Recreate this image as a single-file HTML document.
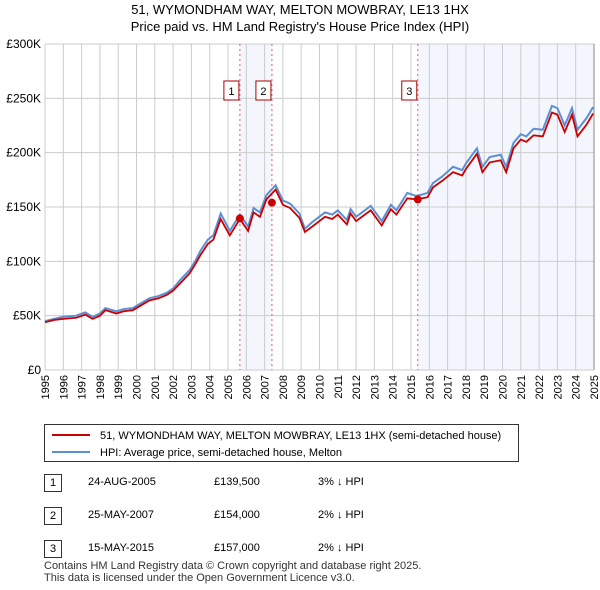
<!DOCTYPE html>
<html><head><meta charset="utf-8"><style>
body{margin:0;background:#fff;font-family:"Liberation Sans","DejaVu Sans",sans-serif;}
#wrap{position:relative;width:600px;height:590px;overflow:hidden;}
.t{position:absolute;font-size:12px;color:#000;white-space:nowrap;}
</style></head><body>
<div id="wrap">
<svg id="chart" width="600" height="420" style="position:absolute;left:0;top:0">
<text x="300" y="14" text-anchor="middle" font-size="13">51, WYMONDHAM WAY, MELTON MOWBRAY, LE13 1HX</text>
<text x="300" y="31" text-anchor="middle" font-size="13">Price paid vs. HM Land Registry's House Price Index (HPI)</text>
<g id="grid"></g><g id="marks"></g>
</svg>
<svg width="600" height="40" style="position:absolute;left:0;top:424px">
<rect x="44.5" y="0.5" width="474" height="37" fill="#fff" stroke="#333"/>
<line x1="52" y1="11" x2="90" y2="11" stroke="#cc0000" stroke-width="2"/>
<text x="100" y="15" font-size="11">51, WYMONDHAM WAY, MELTON MOWBRAY, LE13 1HX (semi-detached house)</text>
<line x1="52" y1="28" x2="90" y2="28" stroke="#5b8fd6" stroke-width="2"/>
<text x="100" y="32" font-size="11">HPI: Average price, semi-detached house, Melton</text>
</svg>
<div>
<div class="t" style="left:44px;top:474px;width:16px;height:16px;border:1px solid #333;text-align:center;line-height:16px;font-size:11px">1</div>
<div class="t" style="left:88px;top:476px;font-size:11px">24-AUG-2005</div>
<div class="t" style="left:214px;top:476px;font-size:11px">£139,500</div>
<div class="t" style="left:318px;top:476px;font-size:11px">3% ↓ HPI</div>
<div class="t" style="left:44px;top:507px;width:16px;height:16px;border:1px solid #333;text-align:center;line-height:16px;font-size:11px">2</div>
<div class="t" style="left:88px;top:509px;font-size:11px">25-MAY-2007</div>
<div class="t" style="left:214px;top:509px;font-size:11px">£154,000</div>
<div class="t" style="left:318px;top:509px;font-size:11px">2% ↓ HPI</div>
<div class="t" style="left:44px;top:540px;width:16px;height:16px;border:1px solid #333;text-align:center;line-height:16px;font-size:11px">3</div>
<div class="t" style="left:88px;top:542px;font-size:11px">15-MAY-2015</div>
<div class="t" style="left:214px;top:542px;font-size:11px">£157,000</div>
<div class="t" style="left:318px;top:542px;font-size:11px">2% ↓ HPI</div>
</div>
<div class="t" style="left:44px;top:560px;font-size:11px;color:#333;line-height:12px">Contains HM Land Registry data © Crown copyright and database right 2025.<br>This data is licensed under the Open Government Licence v3.0.</div>
</div>
<script>
const hpiYears=[1995.0,1995.5,1996.0,1996.7,1997.2,1997.6,1998.0,1998.3,1998.9,1999.3,1999.8,2000.3,2000.7,2001.2,2001.65,2002.0,2002.4,2002.9,2003.2,2003.5,2003.9,2004.2,2004.6,2005.1,2005.65,2006.1,2006.4,2006.75,2007.1,2007.6,2008.0,2008.4,2008.9,2009.2,2009.6,2010.3,2010.7,2011.0,2011.5,2011.7,2012.0,2012.8,2013.4,2013.9,2014.2,2014.8,2015.3,2015.9,2016.2,2016.7,2017.3,2017.8,2018.0,2018.6,2018.9,2019.3,2019.9,2020.2,2020.6,2021.0,2021.3,2021.7,2022.2,2022.7,2023.0,2023.4,2023.8,2024.1,2024.6,2024.95];
const hpiValues=[45,47,49,50,53,49,52,57,54,56,57,62,66,68,71,75,83,92,100,110,120,124,144,128,143,132,149,145,161,170,156,153,144,130,136,145,143,147,138,148,141,151,137,152,147,163,160,163,172,178,187,184,190,204,187,196,198,187,209,217,215,222,221,243,241,225,241,221,232,242];
const priceValues=[44,46,47,48,51,47,50,55,52,54,55,60,64,66,69,73,80,89,97,106,116,120,139,124,139,128,145,141,157,166,152,149,140,127,132,141,139,143,134,144,137,147,133,148,143,158,157,159,168,174,182,179,185,199,182,191,193,182,204,212,210,216,215,237,235,219,235,215,226,236];
const yTicks=[0,50,100,150,200,250,300];
const yTickLabels=["£0","£50K","£100K","£150K","£200K","£250K","£300K"];
const xTickYears=[1995,1996,1997,1998,1999,2000,2001,2002,2003,2004,2005,2006,2007,2008,2009,2010,2011,2012,2013,2014,2015,2016,2017,2018,2019,2020,2021,2022,2023,2024,2025];
const saleLabels=["1","2","3"];
const saleYears=[2005.65,2007.4,2015.37];
const salePrices=[139.5,154,157];
const X0=45,X1=594,Y0=370,Y1=44;
const xs=y=>X0+(y-1995)*(X1-X0)/30;
const ys=v=>Y0-v*(Y0-Y1)/300;
const NS="http://www.w3.org/2000/svg";
const grid=document.getElementById('grid'),marks=document.getElementById('marks');
function mk(p,tag,a){const e=document.createElementNS(NS,tag);for(const k in a)e.setAttribute(k,a[k]);p.appendChild(e);return e;}
let r=mk(grid,'rect',{x:xs(saleYears[0]),y:Y1,width:xs(saleYears[1])-xs(saleYears[0]),height:Y0-Y1,fill:'#eef3fc',opacity:0.7});


r=mk(grid,'rect',{x:xs(saleYears[2]),y:Y1,width:X1-xs(saleYears[2]),height:Y0-Y1,fill:'#eef3fc',opacity:0.7});


yTicks.forEach((v,i)=>{
 const l=mk(grid,'line',{x1:X0,x2:X1,y1:ys(v),y2:ys(v),stroke:'#ccc'});
 
 
 const t=mk(grid,'text',{x:X0-4,y:ys(v)+4,'text-anchor':'end','font-size':12});
 t.textContent=yTickLabels[i];
 
 
});
xTickYears.forEach(y=>{
 const l=mk(grid,'line',{x1:xs(y),x2:xs(y),y1:Y1,y2:Y0,stroke:'#ccc'});
 
 
 const tx=xs(y)+4,ty=375;
 const t=mk(grid,'text',{x:tx,y:ty,'text-anchor':'end','font-size':11,transform:'rotate(-90 '+tx+' '+ty+')'});
 t.textContent=y;
 
 
});
saleYears.forEach((y,i)=>{
 const l=mk(marks,'line',{x1:xs(y),x2:xs(y),y1:Y1,y2:Y0,stroke:'#e06060','stroke-dasharray':'2,3'});
 
 
});
let d=hpiYears.map((y,i)=>(i?'L':'M')+xs(y).toFixed(1)+','+ys(hpiValues[i]).toFixed(1)).join('');
let p=mk(marks,'path',{d:d,fill:'none',stroke:'#5b8fd6','stroke-width':2});


d=hpiYears.map((y,i)=>(i?'L':'M')+xs(y).toFixed(1)+','+ys(priceValues[i]).toFixed(1)).join('');
p=mk(marks,'path',{d:d,fill:'none',stroke:'#cc0000','stroke-width':1.8});


saleYears.forEach((y,i)=>{
 const c=mk(marks,'circle',{cx:xs(y),cy:ys(salePrices[i]),r:4,fill:'#cc0000'});
 
 
 const b=mk(marks,'rect',{x:xs(y)-16,y:81,width:15,height:19,fill:'#fff',stroke:'#aa0000'});
 
 
 const t=mk(marks,'text',{x:xs(y)-8.5,y:95,'text-anchor':'middle','font-size':11});
 t.textContent=saleLabels[i];
 
 
});
const ax=mk(marks,'line',{x1:X1,x2:X1,y1:Y1,y2:Y0,stroke:'#888'});


</script>
</body></html>
